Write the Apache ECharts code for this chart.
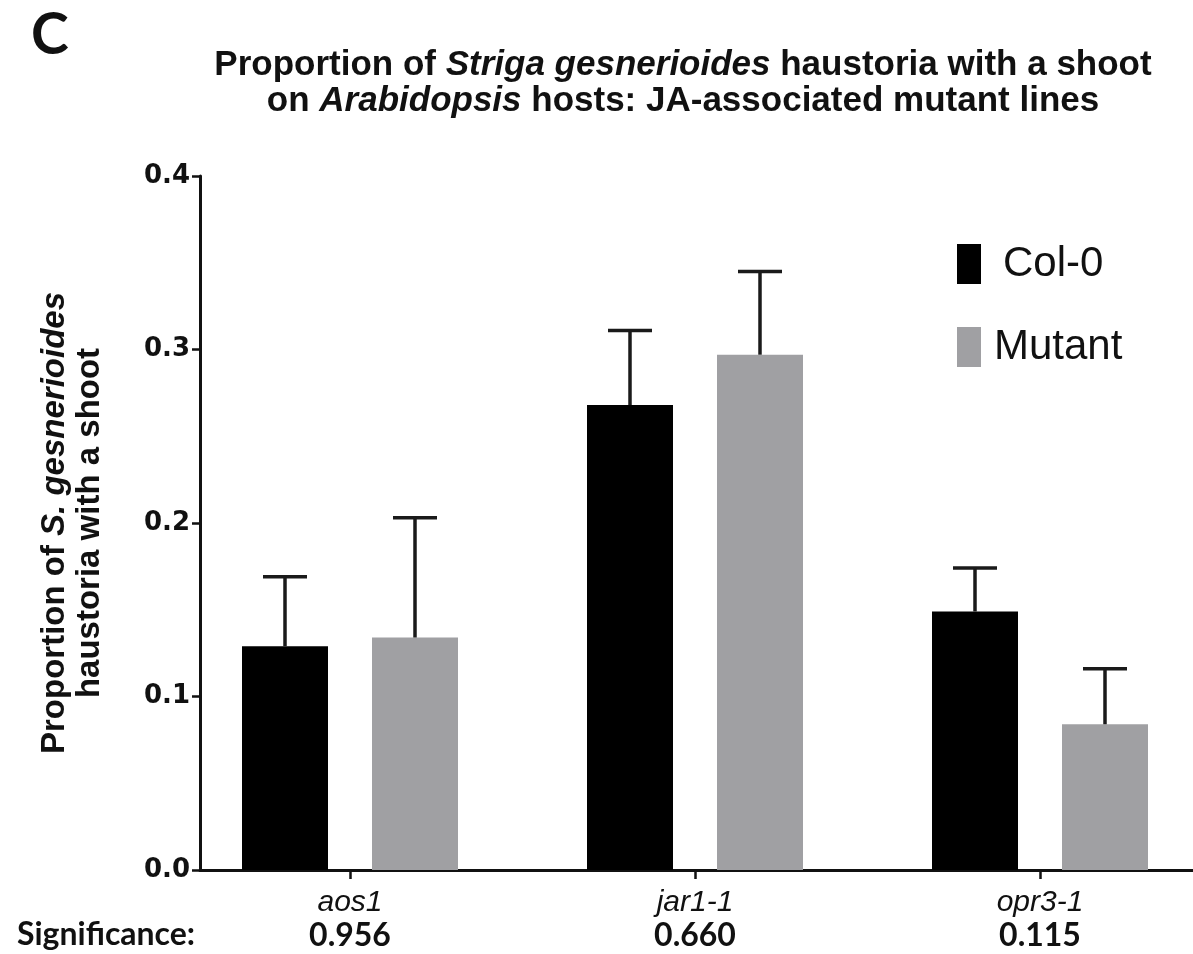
<!DOCTYPE html>
<html>
<head>
<meta charset="utf-8">
<script src="https://cdn.jsdelivr.net/npm/echarts@6/dist/echarts.min.js"></script>
<style>
  html, body { margin: 0; padding: 0; background: #fff; }
  #chart { width: 1193px; height: 954px; }
</style>
</head>
<body>
<div id="chart"></div>
<script>
// Host lines (x categories) and the p-value printed beneath each one
const categories = ['aos1', 'jar1-1', 'opr3-1'];
const significance = ['0.956', '0.660', '0.115'];

// Mean proportion of haustoria with a shoot, and the upper error (SEM)
const colMeans  = [0.129, 0.268, 0.149];
const colErr    = [0.040, 0.043, 0.025];
const mutMeans  = [0.134, 0.297, 0.084];
const mutErr    = [0.069, 0.048, 0.032];

const yTicks = [0.0, 0.1, 0.2, 0.3, 0.4];

// Bar geometry (pixels)
const BAR_W = 86;
const BAR_GAP_PX = 44;
const HALF_STEP = (BAR_W + BAR_GAP_PX) / 2;
const CAP_HALF = 22;

const BLACK = '#000000';
const GREY = '#a0a0a3';

const chart = echarts.init(document.getElementById('chart'), null, { renderer: 'canvas' });

function pairs(means) { return means.map((v, i) => [i, v]); }
function errData(means, errs) { return means.map((v, i) => [i, v, errs[i]]); }

// Upper-only error bar with a flat cap, drawn over the matching bar
function errorBar(dir) {
  return function (params, api) {
    const x = api.value(0);
    const base = api.coord([x, api.value(1)]);
    const top = api.coord([x, api.value(1) + api.value(2)]);
    const cx = base[0] + dir * HALF_STEP;
    const style = { stroke: '#1a1a1a', lineWidth: 3.5 };
    return {
      type: 'group',
      children: [
        { type: 'line', shape: { x1: cx, y1: base[1], x2: cx, y2: top[1] }, style },
        { type: 'line', shape: { x1: cx - CAP_HALF, y1: top[1], x2: cx + CAP_HALF, y2: top[1] }, style }
      ]
    };
  };
}

const catPos = categories.map((c, i) => i);

const option = {
  animation: false,
  backgroundColor: '#ffffff',
  title: [
    {
      text: 'C',
      left: 26, top: 2,
      textStyle: { fontFamily: 'Lato', fontWeight: 'bold', fontSize: 57, color: '#111' }
    },
    {
      text: '{n|Proportion of }{i|Striga gesnerioides}{n| haustoria with a shoot}\n{n|on }{i|Arabidopsis}{n| hosts: JA-associated mutant lines}',
      left: 678, top: 42, textAlign: 'center',
      textStyle: {
        align: 'center',
        rich: {
          n: { fontFamily: 'Liberation Sans', fontWeight: 'bold', fontSize: 35, lineHeight: 36, color: '#111' },
          i: { fontFamily: 'Liberation Sans', fontWeight: 'bold', fontStyle: 'italic', fontSize: 35, lineHeight: 36, color: '#111' }
        }
      }
    },
    {
      text: 'Significance:',
      left: 12, top: 914,
      textStyle: { fontFamily: 'Lato', fontWeight: 'bold', fontSize: 32, color: '#111' }
    }
  ],
  legend: {
    orient: 'vertical',
    left: 952, top: 238,
    itemWidth: 24, itemHeight: 40, itemGap: 41,
    icon: 'rect',
    selectedMode: false,
    data: ['Col-0', 'Mutant'],
    formatter: function (name) { return name === 'Col-0' ? '{a|Col-0}' : '{b|Mutant}'; },
    textStyle: {
      rich: {
        a: { fontFamily: 'Liberation Sans', fontSize: 42, lineHeight: 40, color: '#111', padding: [0, 0, 0, 17] },
        b: { fontFamily: 'Liberation Sans', fontSize: 42, lineHeight: 40, color: '#111', padding: [0, 0, 0, 8] }
      }
    }
  },
  grid: { left: 200, right: 0, top: 176, bottom: 84, containLabel: false },
  xAxis: {
    type: 'value',
    min: -150 / 345,
    max: 843 / 345,
    splitLine: { show: false },
    axisLine: { show: true, onZero: false, lineStyle: { color: '#111', width: 3 } },
    axisTick: { show: true, customValues: catPos, length: 9, lineStyle: { color: '#111', width: 2.5 } },
    axisLabel: {
      customValues: catPos,
      margin: 14,
      formatter: function (v) {
        const i = Math.round(v);
        return '{c|' + categories[i] + '}\n{s|' + significance[i] + '}';
      },
      rich: {
        c: { fontFamily: 'Liberation Sans', fontStyle: 'italic', fontSize: 30, lineHeight: 38, color: '#111' },
        s: { fontFamily: 'Lato', fontWeight: 'bold', fontSize: 32, lineHeight: 28, color: '#111' }
      }
    }
  },
  yAxis: {
    type: 'value',
    min: 0, max: 0.4, interval: 0.1,
    splitLine: { show: false },
    axisLine: { show: true, onZero: false, lineStyle: { color: '#111', width: 3 } },
    axisTick: { show: true, inside: false, length: 8, lineStyle: { color: '#111', width: 2.5 } },
    axisLabel: {
      margin: 10,
      formatter: function (v) { return v.toFixed(1); },
      fontFamily: 'DejaVu Sans', fontWeight: 'bold', fontSize: 26, color: '#111'
    },
    name: '{n|Proportion of }{i|S. gesnerioides}\n{n|haustoria with a shoot}',
    nameLocation: 'middle',
    nameRotate: 90,
    nameGap: 93,
    nameTextStyle: {
      align: 'center',
      rich: {
        n: { fontFamily: 'Liberation Sans', fontWeight: 'bold', fontSize: 33, lineHeight: 35, color: '#111' },
        i: { fontFamily: 'Liberation Sans', fontWeight: 'bold', fontStyle: 'italic', fontSize: 33, lineHeight: 35, color: '#111' }
      }
    }
  },
  series: [
    {
      name: 'Col-0', type: 'bar',
      data: pairs(colMeans),
      barWidth: BAR_W, barGap: (BAR_GAP_PX / BAR_W * 100) + '%',
      itemStyle: { color: BLACK }
    },
    {
      name: 'Mutant', type: 'bar',
      data: pairs(mutMeans),
      barWidth: BAR_W, barGap: (BAR_GAP_PX / BAR_W * 100) + '%',
      itemStyle: { color: GREY }
    },
    {
      type: 'custom', name: 'Col-0 error',
      renderItem: errorBar(-1),
      data: errData(colMeans, colErr),
      encode: { x: 0, y: [1, 2] },
      z: 3, silent: true
    },
    {
      type: 'custom', name: 'Mutant error',
      renderItem: errorBar(1),
      data: errData(mutMeans, mutErr),
      encode: { x: 0, y: [1, 2] },
      z: 3, silent: true
    }
  ]
};

chart.setOption(option);
</script>
</body>
</html>
